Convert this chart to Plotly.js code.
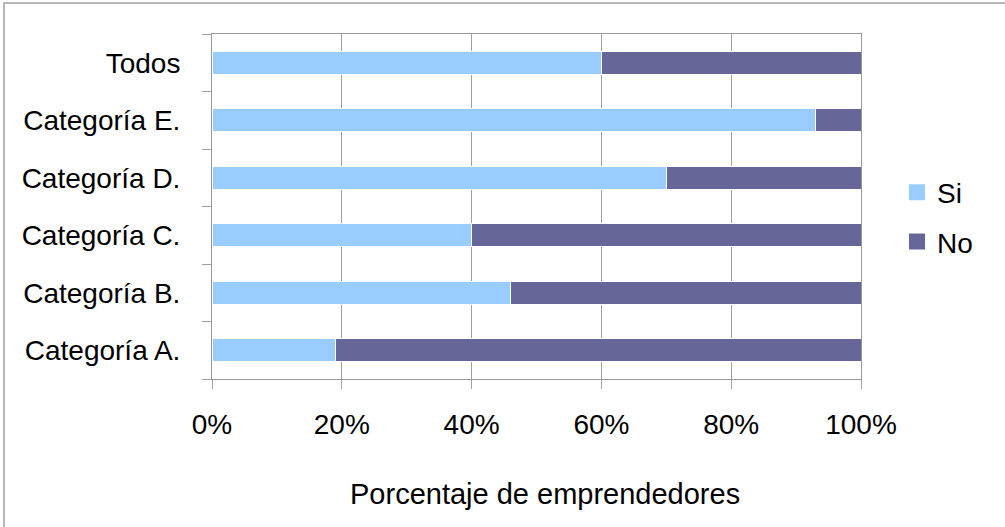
<!DOCTYPE html>
<html>
<head>
<meta charset="utf-8">
<script src="https://cdn.plot.ly/plotly-3.0.1.min.js"></script>
<style>
  html, body { margin: 0; padding: 0; background: #fff; }
  #chart { width: 1005px; height: 527px; }
</style>
</head>
<body>
<div id="chart"></div>
<script>
const categories = ['Categoría A.', 'Categoría B.', 'Categoría C.', 'Categoría D.', 'Categoría E.', 'Todos'];
const siValues = [19, 46, 40, 70, 93, 60];
const noValues = [81, 54, 60, 30, 7, 40];
const seriesNames = ['Si', 'No'];
const seriesColors = ['#99CCFF', '#666699'];
const xTickVals = [0, 20, 40, 60, 80, 100];
const xTickText = ['0%', '20%', '40%', '60%', '80%', '100%'];
const xTitle = 'Porcentaje de emprendedores';

const W = 1005, H = 527;
const margin = { l: 212, r: 144, t: 34, b: 148 };
const pw = W - margin.l - margin.r;
const ph = H - margin.t - margin.b;
const px = v => (v - margin.l) / pw;
const py = v => (H - margin.b - v) / ph;

const font = { family: '"Liberation Sans", Arial, sans-serif', size: 28, color: '#000' };

const traces = [
  { type: 'bar', orientation: 'h', name: seriesNames[0], y: categories, x: siValues,
    marker: { color: seriesColors[0], line: { color: '#fff', width: 1 } }, showlegend: false, hoverinfo: 'x+y' },
  { type: 'bar', orientation: 'h', name: seriesNames[1], y: categories, x: noValues,
    marker: { color: seriesColors[1], line: { color: '#fff', width: 1 } }, showlegend: false, hoverinfo: 'x+y' },
  { type: 'scatter', mode: 'markers', name: seriesNames[0], x: [null], y: [null], legendgroup: 'a',
    marker: { symbol: 'square', size: 18, color: seriesColors[0] } },
  { type: 'scatter', mode: 'markers', name: seriesNames[1], x: [null], y: [null], legendgroup: 'b',
    marker: { symbol: 'square', size: 18, color: seriesColors[1] } }
];

const layout = {
  width: W, height: H,
  margin: margin,
  paper_bgcolor: '#fff', plot_bgcolor: '#fff',
  font: font,
  barmode: 'stack',
  bargap: 0.6,
  showlegend: true,
  legend: { x: px(897), y: py(217), xanchor: 'left', yanchor: 'middle', font: font,
            bgcolor: 'rgba(0,0,0,0)', tracegroupgap: 10, itemwidth: 30 },
  xaxis: {
    range: [0, 100], tickvals: xTickVals, ticktext: xTickText,
    showgrid: true, gridcolor: '#A0A0A0', gridwidth: 1,
    showline: true, linecolor: '#999999', linewidth: 1, mirror: true,
    ticks: 'outside', ticklen: 9, tickcolor: '#A0A0A0',
    ticklabelstandoff: 11,
    zeroline: false, fixedrange: true,
    automargin: false
  },
  yaxis: {
    type: 'category', categoryorder: 'array', categoryarray: categories,
    showgrid: false,
    showline: true, linecolor: '#999999', linewidth: 1, mirror: true,
    ticks: 'outside', ticklen: 9, tickcolor: '#A0A0A0', tickson: 'boundaries',
    ticklabelstandoff: 25,
    fixedrange: true, automargin: false
  },
  annotations: [
    { text: xTitle, xref: 'paper', yref: 'paper', x: px(545), y: py(494),
      xanchor: 'center', yanchor: 'middle', showarrow: false,
      font: { family: font.family, size: 29, color: '#000' } }
  ],
  shapes: [
    { type: 'rect', xref: 'paper', yref: 'paper', x0: px(4), x1: px(1012), y0: py(535), y1: py(3),
      line: { color: '#A0A0A0', width: 1.5 }, fillcolor: 'rgba(0,0,0,0)', layer: 'below' }
  ]
};

Plotly.newPlot('chart', traces, layout, { displayModeBar: false, staticPlot: true });
</script>
</body>
</html>
